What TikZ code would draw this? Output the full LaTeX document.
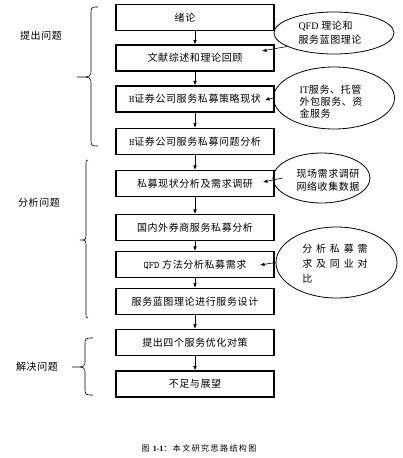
\documentclass[tikz,border=0pt]{standalone}
\usepackage{fontspec}
\setmainfont[LetterSpace=6]{Noto Sans CJK SC}
\newfontfamily\cjkwide[LetterSpace=38]{Noto Sans CJK SC}
\newfontfamily\cjkcap[LetterSpace=18]{Noto Sans CJK SC}
\newfontfamily\lserif{Liberation Serif}
\usetikzlibrary{shapes.geometric,arrows.meta}
\tikzset{
  stepbox/.style={draw, line width=1.2pt, minimum width=158pt, minimum height=26pt, inner sep=0pt,
    font=\fontsize{10}{12}\selectfont},
  oval/.style={draw, ellipse, line width=0.8pt, inner sep=0pt},
  otext/.style={align=left, inner sep=0pt, font=\fontsize{10}{12}\selectfont},
  sidelabel/.style={inner sep=0pt, font=\fontsize{10}{12}\selectfont},
  arr/.style={line width=0.6pt, -{Latex[length=4.5pt,width=3.6pt]}},
  bracestyle/.style={line width=0.6pt}
}
\begin{document}
\begin{tikzpicture}[x=1pt,y=-1pt]
\useasboundingbox (0,0) rectangle (403,458);
% main boxes
\node[stepbox] (b1) at (195,17.5) {绪论\hspace*{20pt}};
\node[stepbox] (b2) at (195,58) {文献综述和理论回顾};
\node[stepbox] (b3) at (195,99) {{\ttfamily H}证券公司服务私募策略现状};
\node[stepbox] (b4) at (195,141.5) {{\ttfamily H}证券公司服务私募问题分析};
\node[stepbox] (b5) at (195,183.5) {私募现状分析及需求调研};
\node[stepbox] (b6) at (195,227.5) {国内外券商服务私募分析};
\node[stepbox] (b7) at (195,264.5) {{\ttfamily QFD} 方法分析私募需求};
\node[stepbox] (b8) at (195,301.5) {服务蓝图理论进行服务设计};
\node[stepbox] (b9) at (195,342.5) {提出四个服务优化对策};
\node[stepbox] (b10) at (195,384) {不足与展望};
\foreach \a/\b in {b1/b2,b2/b3,b3/b4,b4/b5,b5/b6,b6/b7,b7/b8,b8/b9,b9/b10}
  \draw[arr] (\a) -- (\b);
% ellipses
\node[oval, minimum width=120pt, minimum height=42pt] (e1) at (334,33) {};
\node[otext] (e1t) at (330,33) {{\lserif QFD} 理论和\\[2pt]服务蓝图理论};
\node[oval, minimum width=121pt, minimum height=62pt] (e2) at (334,98) {};
\node[otext] (e2t) at (331,101.5) {{\lserif IT}服务、托管\\[0pt]外包服务、资\\[0pt]金服务};
\node[oval, minimum width=97pt, minimum height=50pt] (e3) at (321.5,178) {};
\node[otext] (e3t) at (328,180.5) {现场需求调研\\[1pt]网络收集数据};
\node[oval, minimum width=121pt, minimum height=71pt] (e4) at (336.5,262.5) {};
\node[otext, font=\fontsize{10}{15}\cjkwide] (e4t) at (335,264) {分析私募需\\求及同业对\\比};
\coordinate (t1) at (262,51);
\coordinate (t2) at (265,100);
\coordinate (t3) at (263,182);
\coordinate (t4) at (260,265);
\draw[arr] (e1.196) -- (t1);
\draw[arr] (e2.west) -- (t2);
\draw[arr] ([xshift=10pt]e3.west) -- (t3);
\draw[arr] (e4.west) -- (t4);
% braces
\draw[bracestyle] (98,7) .. controls (91,7) .. (91,15) -- (91,69) .. controls (91,77) .. (77,77)
  .. controls (91,77) .. (91,85) -- (91,138) .. controls (91,146) .. (98,146);
\draw[bracestyle] (88,160) .. controls (86,160) .. (86,167) -- (86,233) .. controls (86,240) .. (80,240)
  .. controls (86,240) .. (86,247) -- (86,311) .. controls (86,318) .. (88,318);
\draw[bracestyle] (93,338) .. controls (85,338) .. (85,346) -- (85,360) .. controls (85,367) .. (72,367)
  .. controls (85,367) .. (85,374) -- (85,387) .. controls (85,395) .. (93,395);
\node[sidelabel] (l1) at (41,36) {提出问题};
\node[sidelabel] (l2) at (39,203) {分析问题};
\node[sidelabel] (l3) at (37,367) {解决问题};
% caption
\node[inner sep=0pt, font=\fontsize{8}{10}\cjkcap] (cap) at (199,448) {图 {\lserif\bfseries 1-1}：本文研究思路结构图};
\end{tikzpicture}
\end{document}
